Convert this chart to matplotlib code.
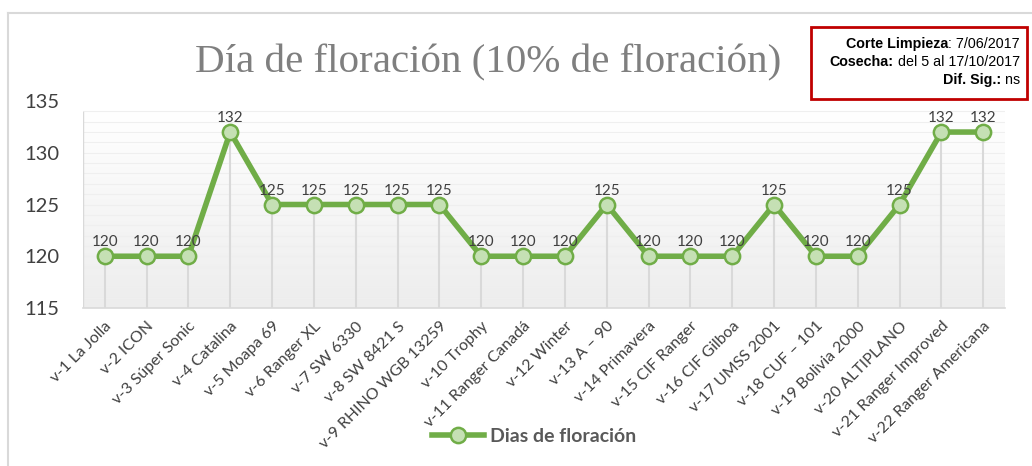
import matplotlib
matplotlib.use("Agg")
import matplotlib.pyplot as plt
import numpy as np
from matplotlib.lines import Line2D
from matplotlib.patches import Rectangle
from matplotlib.colors import LinearSegmentedColormap

categories = ["v-1 La Jolla", "v-2 ICON", "v-3 Súper Sonic", "v-4 Catalina", "v-5 Moapa 69",
              "v-6 Ranger XL", "v-7 SW 6330", "v-8 SW 8421 S", "v-9 RHINO WGB 13259",
              "v-10 Trophy", "v-11 Ranger Canadá", "v-12 Winter", "v-13 A – 90",
              "v-14 Primavera", "v-15 CIF Ranger", "v-16 CIF Gilboa", "v-17 UMSS 2001",
              "v-18 CUF – 101", "v-19 Bolivia 2000", "v-20 ALTIPLANO", "v-21 Ranger Improved",
              "v-22 Ranger Americana"]
dias = [120, 120, 120, 132, 125, 125, 125, 125, 125, 120, 120, 120, 125, 120, 120, 120,
        125, 120, 120, 125, 132, 132]
yticks = [115, 120, 125, 130, 135]
series_name = "Dias de floración"
title = "Día de floración (10% de floración)"

W, H = 1032, 466
fig = plt.figure(figsize=(W / 100, H / 100), dpi=100)
fig.patch.set_facecolor("white")

# outer chart frame
fig.add_artist(Line2D([8 / W, 8 / W], [0, 1 - 13 / H], color="#D9D9D9", lw=1.5, transform=fig.transFigure))
fig.add_artist(Line2D([8 / W, 1], [1 - 13 / H, 1 - 13 / H], color="#D9D9D9", lw=1.5, transform=fig.transFigure))

left, right, top, bottom = 83, 1005, 101, 308
ax = fig.add_axes([left / W, 1 - bottom / H, (right - left) / W, (bottom - top) / H])

x = np.arange(len(categories))
ax.set_xlim(-0.52, len(categories) - 0.48)
ax.set_ylim(115, 135)

# gradient background
grad = np.linspace(0, 1, 256).reshape(-1, 1)
cmap = LinearSegmentedColormap.from_list("g", ["#EDEDED", "#FFFFFF"])
ax.imshow(grad, extent=(-0.52, len(categories) - 0.48, 115, 133.9), origin="lower",
          aspect="auto", cmap=cmap, zorder=0)

# faint horizontal grid
for v in range(116, 135):
    ax.axhline(v, color="#EFEFEF", lw=0.8, zorder=1)

# drop lines
ax.vlines(x, 115, dias, color="#D9D9D9", lw=1.5, zorder=2)
ax.axvline(-0.52, ymax=(133.9 - 115) / 20, color="#D9D9D9", lw=1.0, zorder=2)

ax.plot(x, dias, color="#70AD47", lw=4, marker="o", markersize=11,
        markerfacecolor="#C5E0B4", markeredgecolor="#70AD47", markeredgewidth=1.8,
        zorder=4, label=series_name)

for xi, v in zip(x, dias):
    ax.annotate(str(v), (xi, v), xytext=(0, 5), textcoords="offset points",
                ha="center", va="bottom", fontsize=11, color="#404040",
                family="Lato", zorder=5)

for s in ["top", "right", "left"]:
    ax.spines[s].set_visible(False)
ax.spines["bottom"].set_color("#D9D9D9")
ax.spines["bottom"].set_linewidth(1.2)

ax.set_yticks(yticks)
ax.set_yticklabels([str(t) for t in yticks], fontsize=14.5, color="#404040", family="Lato")
ax.tick_params(axis="y", length=0, pad=17)
ax.set_xticks(x)
ax.set_xticklabels(categories, rotation=45, ha="right", rotation_mode="anchor",
                   fontsize=11.5, color="#404040", family="Lato")
ax.tick_params(axis="x", length=0, pad=8)

fig.text(488 / W, 1 - 63 / H, title, ha="center", va="center", fontsize=29.5,
         color="#7F7F7F", family="Liberation Serif")

# info box
fig.add_artist(Rectangle((811 / W, 1 - 99 / H), 216 / W, 72 / H, transform=fig.transFigure,
                         fill=False, edgecolor="#C00000", lw=2))
lines_txt = [("Corte Limpieza", ": 7/06/2017"), ("Cosecha:", " del 5 al 17/10/2017"),
             ("Dif. Sig.:", " ns")]
ys = [44, 62, 80]
for (b, n), yy in zip(lines_txt, ys):
    t = fig.text(1020 / W, 1 - yy / H, n, ha="right", va="center", fontsize=10.3,
                 family="Liberation Sans", color="black")
    fig.canvas.draw()
    bb = t.get_window_extent()
    fig.text(bb.x0 / W, 1 - yy / H, b, ha="right", va="center", fontsize=10.3,
             family="Liberation Sans", fontweight="bold", color="black")

leg = fig.legend(loc="center left", bbox_to_anchor=(414 / W, 1 - 436 / H), frameon=False,
                 handlelength=2.7, handletextpad=0.3,
                 prop={"family": "Lato", "weight": "bold", "size": 14})
for txt in leg.get_texts():
    txt.set_color("#595959")

fig.savefig("out.png", dpi=100)
